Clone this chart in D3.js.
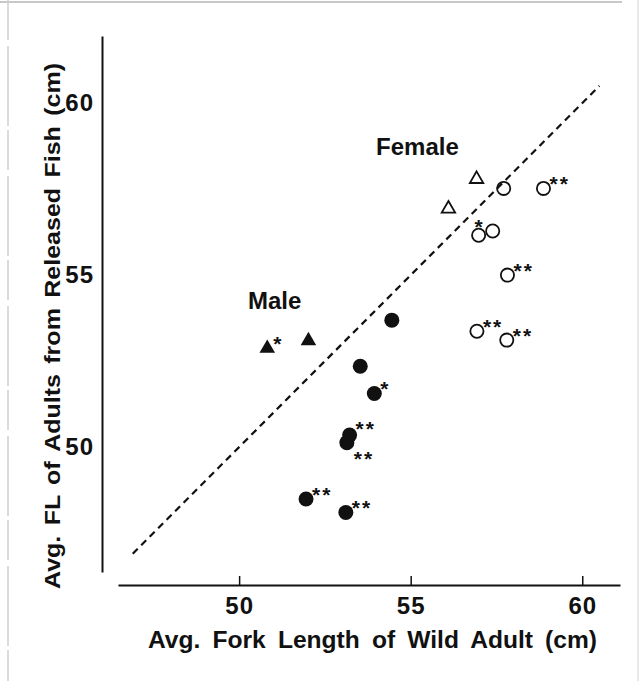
<!DOCTYPE html>
<html>
<head>
<meta charset="utf-8">
<script src="https://cdn.jsdelivr.net/npm/d3@7"></script>
<style>
  html, body { margin: 0; padding: 0; background: #fff; }
  svg { display: block; font-family: "Liberation Sans", Arial, Helvetica, sans-serif; }
</style>
</head>
<body>
<svg id="chart" width="641" height="681"></svg>
<script>
// ---- Data ----
const xTicks = [50, 55, 60];
const yTicks = [50, 55, 60];

// Male
const maleTriX = [50.82, 52.02];
const maleTriY = [52.87, 53.09];
const maleTriSig = ["*", ""];

const maleCircX = [54.45, 53.53, 53.94, 53.22, 53.14, 51.95, 53.11];
const maleCircY = [53.69, 52.35, 51.56, 50.35, 50.13, 48.49, 48.10];
const maleCircSig = ["", "", "*", "**", "**", "**", "**"];

// Female
const femTriX = [56.92, 56.10];
const femTriY = [57.79, 56.93];
const femTriSig = ["", ""];

const femCircX = [57.71, 58.87, 56.98, 57.39, 57.82, 56.93, 57.80];
const femCircY = [57.52, 57.52, 56.16, 56.28, 55.00, 53.37, 53.11];
const femCircSig = ["", "**", "*", "", "**", "**", "**"];

const groupLabels = ["Male", "Female"];
const groupLabelX = [50.26, 53.99];
const groupLabelY = [54.02, 58.49];

const oneToOne = [46.9, 60.5];

const xTitle = "Avg. Fork Length of Wild Adult (cm)";
const yTitle = "Avg. FL of Adults from Released Fish (cm)";

// ---- Layout ----
const svg = d3.select("#chart");
const xAxisY = 585, yAxisX = 102;
const x = d3.scaleLinear().domain([46.47, 61.1]).range([118, 620]);
const y = d3.scaleLinear().domain([46.37, 61.95]).range([572, 36]);

// scan frame
svg.append("line").attr("x1", 0).attr("x2", 622).attr("y1", 2).attr("y2", 2)
  .attr("stroke", "#c8c8c8").attr("stroke-width", 2);
svg.append("line").attr("x1", 8).attr("x2", 8).attr("y1", 0).attr("y2", 681)
  .attr("stroke", "#cfcfcf").attr("stroke-width", 1.5).attr("stroke-dasharray", "40,6,80,4");
svg.append("line").attr("x1", 638).attr("x2", 638).attr("y1", 0).attr("y2", 681)
  .attr("stroke", "#e2e2e2").attr("stroke-width", 1.5);

// axes
const xAxis = d3.axisBottom(x).tickValues(xTicks).tickSizeInner(-9).tickSizeOuter(0).tickPadding(14);
const gx = svg.append("g").attr("transform", `translate(0,${xAxisY})`).call(xAxis);
gx.select(".domain").attr("stroke", "#111").attr("stroke-width", 2);
gx.selectAll(".tick line").attr("stroke", "#111").attr("stroke-width", 1.5);
gx.selectAll(".tick text").attr("font-size", 24).attr("font-weight", "bold")
  .attr("fill", "#111").attr("letter-spacing", 1).attr("dy", "0.71em").attr("y", 12);

const yAxis = d3.axisLeft(y).tickValues(yTicks).tickSize(0).tickPadding(8);
const gy = svg.append("g").attr("transform", `translate(${yAxisX},0)`).call(yAxis);
gy.select(".domain").attr("stroke", "#111").attr("stroke-width", 2);
gy.selectAll(".tick text").attr("font-size", 24).attr("font-weight", "bold")
  .attr("fill", "#111").attr("letter-spacing", 1);

// axis titles
svg.append("text").attr("x", (148 + 597) / 2).attr("y", 648)
  .attr("text-anchor", "middle").attr("font-size", 23).attr("font-weight", "bold")
  .attr("fill", "#111").attr("word-spacing", 5)
  .attr("textLength", 449).attr("lengthAdjust", "spacingAndGlyphs")
  .text(xTitle);
svg.append("text").attr("transform", "translate(60,326) rotate(-90)")
  .attr("text-anchor", "middle").attr("font-size", 22).attr("font-weight", "bold")
  .attr("fill", "#111").attr("word-spacing", 3)
  .attr("textLength", 526).attr("lengthAdjust", "spacingAndGlyphs")
  .text(yTitle);

// 1:1 dashed line
svg.append("line")
  .attr("x1", x(oneToOne[0])).attr("y1", y(oneToOne[0]))
  .attr("x2", x(oneToOne[1])).attr("y2", y(oneToOne[1]))
  .attr("stroke", "#111").attr("stroke-width", 2.2).attr("stroke-dasharray", "7,5");

// group labels
svg.selectAll("text.grp").data(groupLabels).join("text").attr("class", "grp")
  .attr("x", (d, i) => x(groupLabelX[i])).attr("y", (d, i) => y(groupLabelY[i]))
  .attr("font-size", 24).attr("font-weight", "bold").attr("fill", "#111").text(d => d);

const zip = (xs, ys, ss) => xs.map((v, i) => ({ x: v, y: ys[i], s: ss[i] }));
const maleTri = zip(maleTriX, maleTriY, maleTriSig);
const maleCirc = zip(maleCircX, maleCircY, maleCircSig);
const femTri = zip(femTriX, femTriY, femTriSig);
const femCirc = zip(femCircX, femCircY, femCircSig);

svg.append("g").selectAll("path").data(maleTri).join("path")
  .attr("d", d3.symbol().type(d3.symbolTriangle).size(105)())
  .attr("transform", d => `translate(${x(d.x)},${y(d.y)})`)
  .attr("fill", "#111");
svg.append("g").selectAll("path").data(femTri).join("path")
  .attr("d", d3.symbol().type(d3.symbolTriangle).size(78)())
  .attr("transform", d => `translate(${x(d.x)},${y(d.y)})`)
  .attr("fill", "none").attr("stroke", "#111").attr("stroke-width", 1.8);

svg.append("g").selectAll("circle").data(maleCirc).join("circle")
  .attr("cx", d => x(d.x)).attr("cy", d => y(d.y)).attr("r", 7.5).attr("fill", "#111");
svg.append("g").selectAll("circle").data(femCirc).join("circle")
  .attr("cx", d => x(d.x)).attr("cy", d => y(d.y)).attr("r", 6.6)
  .attr("fill", "none").attr("stroke", "#111").attr("stroke-width", 1.8);

// significance asterisks: default upper-right; special placements
const sigPlace = { "m3": "ur2", "m4": "lr", "f2": "up" };
function drawSig(data, key) {
  data.forEach((d, i) => {
    if (!d.s) return;
    const place = sigPlace[key + i] || "ur";
    const cx = x(d.x), cy = y(d.y);
    let tx = cx + 6, ty = cy + 3, anchor = "start";
    if (place === "ur2") { tx = cx + 6; ty = cy + 1; }
    if (place === "lr") { tx = cx + 7; ty = cy + 23; }
    if (place === "up") { tx = cx + 1; ty = cy - 1; anchor = "middle"; }
    svg.append("text").attr("x", tx).attr("y", ty).attr("text-anchor", anchor)
      .attr("font-size", 21).attr("font-weight", "bold").attr("fill", "#111")
      .attr("letter-spacing", 2).text(d.s);
  });
}
drawSig(maleTri, "t");
drawSig(maleCirc, "m");
drawSig(femCirc, "f");
</script>
</body>
</html>
